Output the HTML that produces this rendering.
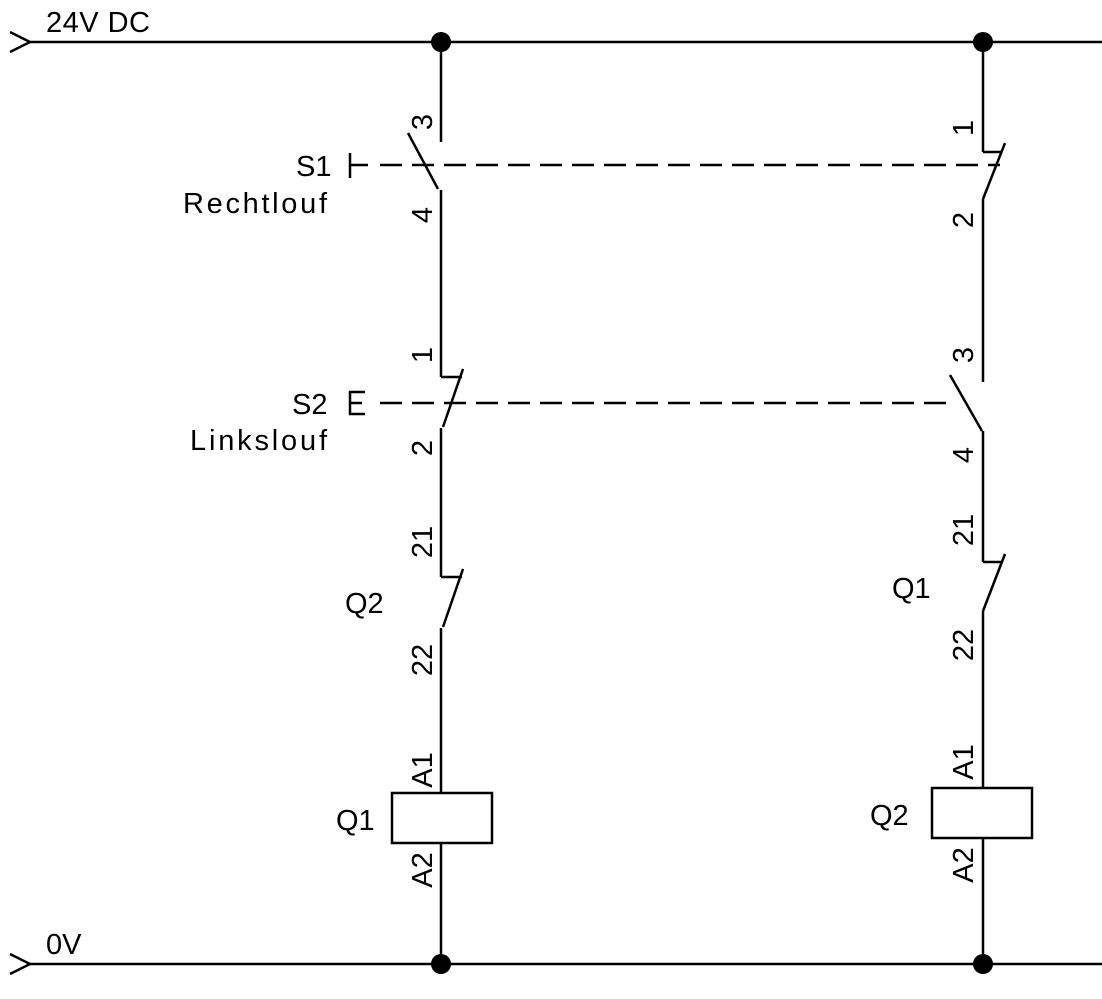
<!DOCTYPE html>
<html><head><meta charset="utf-8"><style>
html,body{margin:0;padding:0;background:#fff;}
svg{display:block;}
text{font-family:"Liberation Sans",sans-serif;font-size:29px;fill:#000;}
</style></head><body>
<svg width="1102" height="999" viewBox="0 0 1102 999" xmlns="http://www.w3.org/2000/svg">
<g stroke="#000" stroke-width="2.5" fill="none">
<line x1="30" y1="42" x2="1102" y2="42"/>
<line x1="30" y1="964" x2="1102" y2="964"/>
<polyline points="10,32 30,42 10,52"/>
<polyline points="10,954 30,964 10,974"/>
<line x1="441" y1="42" x2="441" y2="142"/>
<line x1="408" y1="133" x2="438" y2="189"/>
<line x1="441" y1="190" x2="441" y2="377"/>
<polyline points="441,377 462,377"/>
<line x1="463" y1="369" x2="443" y2="427"/>
<line x1="441" y1="428" x2="441" y2="577"/>
<polyline points="441,577 462,577"/>
<line x1="463" y1="569" x2="443" y2="627"/>
<line x1="441" y1="628" x2="441" y2="793"/>
<rect x="392" y="793" width="100" height="50"/>
<line x1="441" y1="843" x2="441" y2="964"/>
<line x1="983" y1="42" x2="983" y2="152"/>
<polyline points="983,152 1002,152"/>
<line x1="1005" y1="143" x2="983" y2="199"/>
<line x1="983" y1="199" x2="983" y2="382"/>
<line x1="950" y1="375" x2="982" y2="431"/>
<line x1="983" y1="431" x2="983" y2="562"/>
<polyline points="983,562 1002,562"/>
<line x1="1005" y1="554" x2="983" y2="611"/>
<line x1="983" y1="611" x2="983" y2="788"/>
<rect x="932" y="788" width="100" height="50"/>
<line x1="983" y1="838" x2="983" y2="964"/>
<line x1="380" y1="165" x2="1000" y2="165" stroke-dasharray="22,10"/>
<line x1="380" y1="403" x2="955" y2="403" stroke-dasharray="22,10"/>
<line x1="350" y1="153" x2="350" y2="178"/>
<line x1="350" y1="165" x2="368" y2="165"/>
<polyline points="365,392 350,392 350,414 365,414"/>
<line x1="350" y1="403" x2="362" y2="403"/>
</g>
<g fill="#000">
<circle cx="441" cy="42" r="10"/><circle cx="983" cy="42" r="10"/>
<circle cx="441" cy="964" r="10"/><circle cx="983" cy="964" r="10"/>
</g>
<text x="46" y="32" textLength="104" lengthAdjust="spacing">24V DC</text>
<text x="46" y="954">0V</text>
<text x="296" y="176">S1</text>
<text x="183" y="213" textLength="144" lengthAdjust="spacing">Rechtlouf</text>
<text x="292" y="414">S2</text>
<text x="190" y="450" textLength="137" lengthAdjust="spacing">Linkslouf</text>
<text x="345" y="613">Q2</text>
<text x="892" y="598">Q1</text>
<text x="336" y="830">Q1</text>
<text x="870" y="825">Q2</text>
<g text-anchor="middle">
<text transform="translate(432,122) rotate(-90)">3</text>
<text transform="translate(432,215) rotate(-90)">4</text>
<text transform="translate(432,355) rotate(-90)">1</text>
<text transform="translate(432,448) rotate(-90)">2</text>
<text transform="translate(432,542) rotate(-90)">21</text>
<text transform="translate(432,660) rotate(-90)">22</text>
<text transform="translate(432,770) rotate(-90)">A1</text>
<text transform="translate(432,870) rotate(-90)">A2</text>
<text transform="translate(973,128) rotate(-90)">1</text>
<text transform="translate(973,220) rotate(-90)">2</text>
<text transform="translate(973,355) rotate(-90)">3</text>
<text transform="translate(973,455) rotate(-90)">4</text>
<text transform="translate(973,530) rotate(-90)">21</text>
<text transform="translate(973,645) rotate(-90)">22</text>
<text transform="translate(973,762) rotate(-90)">A1</text>
<text transform="translate(973,865) rotate(-90)">A2</text>
</g>
</svg>
</body></html>
